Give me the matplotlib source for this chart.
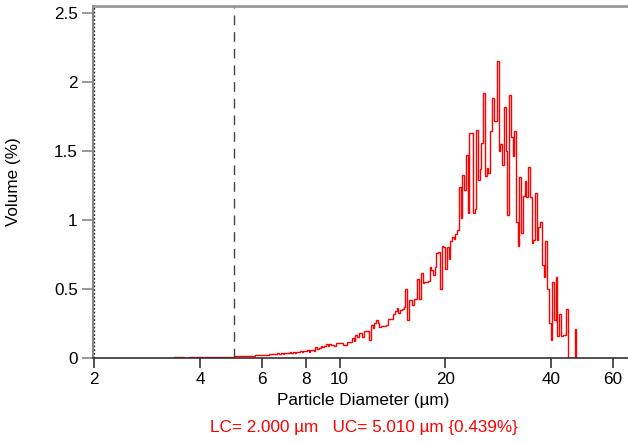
#!/usr/bin/env python3
"""Distribuicao de tamanho de particula (volume %) com janela LC/UC."""

import numpy as np
import matplotlib
matplotlib.use("Agg")
import matplotlib.pyplot as plt

plt.rcParams["font.family"] = ["Liberation Sans", "DejaVu Sans"]

# canais do contador: 300 canais log entre 2 e 60 um
d_min, d_max, n_canais = 2.0, 60.0, 300

# volume (%) por canal (canais 0..278)
volume_pct = (
    [0.0] * 46
    + [0.005, 0.004, 0.005, 0.005, 0.004, 0.005,
       0.003, 0.003, 0.002, 0.004]
    + [0.006, 0.007, 0.007, 0.006, 0.007, 0.008, 0.007, 0.007, 0.006, 0.007,
       0.008, 0.007, 0.007, 0.008, 0.007, 0.008, 0.008, 0.007, 0.008, 0.009,
       0.008, 0.009, 0.009, 0.010, 0.009]
    + [0.013, 0.015, 0.014, 0.012, 0.016, 0.015, 0.014, 0.017, 0.015, 0.016,
       0.018, 0.017, 0.019]
    + [0.021, 0.020, 0.023, 0.022, 0.025, 0.021, 0.024, 0.026,
       0.028, 0.031, 0.027, 0.030, 0.033, 0.029, 0.034, 0.032,
       0.037, 0.040, 0.035, 0.042, 0.039, 0.044, 0.038, 0.045,
       0.046, 0.050, 0.043, 0.052, 0.048, 0.055, 0.047, 0.056,
       0.060, 0.054, 0.080, 0.062, 0.075, 0.085, 0.078, 0.090,
       0.098, 0.085, 0.102, 0.092, 0.095, 0.090, 0.108, 0.112]
    + [0.106, 0.106, 0.094, 0.094, 0.114, 0.118, 0.118, 0.143, 0.126, 0.167,
       0.155, 0.184, 0.184, 0.155, 0.198, 0.196, 0.196, 0.130, 0.239, 0.215,
       0.256, 0.275, 0.251, 0.227, 0.232, 0.235, 0.232, 0.239, 0.280, 0.285,
       0.285, 0.319, 0.343, 0.365, 0.329, 0.348, 0.353, 0.367, 0.498, 0.275,
       0.420, 0.420, 0.384, 0.425, 0.425, 0.570, 0.425]
    + [0.614, 0.546, 0.550, 0.553, 0.560, 0.662, 0.640, 0.600, 0.656, 0.758,
       0.770, 0.497, 0.810, 0.805, 0.643, 0.807, 0.720, 0.850, 0.879, 0.865,
       0.899, 0.928, 1.237, 1.012, 1.324, 1.217, 1.469, 1.053]
    + [1.628, 1.628, 1.048, 1.077, 1.652, 1.290, 1.367, 1.556, 1.923, 1.320,
       1.374, 1.343, 1.647, 1.882, 1.720, 1.720, 2.155]
    + [1.500, 1.551, 1.399, 1.821, 1.500, 1.036, 1.903, 1.600, 1.464, 1.643,
       0.988, 0.812, 1.310, 0.908, 1.174, 1.285]
    + [1.169, 1.382, 1.170, 0.831, 0.855, 1.193, 0.855, 0.947, 0.988, 0.674,
       0.585, 0.850, 0.498, 0.256, 0.130, 0.553, 0.275, 0.585, 0.160, 0.319,
       0.160, 0.167, 0.167, 0.357]
    + [0.0, 0.0, 0.0, 0.0, 0.210]
)

lc, uc = 2.000, 5.010
pct_janela = 0.439

x_ticks = [2, 4, 6, 8, 10, 20, 40, 60]
y_ticks = [0, 0.5, 1, 1.5, 2, 2.5]
y_tick_labels = ["0", "0.5", "1", "1.5", "2", "2.5"]

bordas = np.geomspace(d_min, d_max, n_canais + 1)[: len(volume_pct) + 1]

fig = plt.figure(figsize=(6.28, 4.42), dpi=100)
ax = fig.add_axes([0.148, 0.19, 0.852, 0.7964])

ax.stairs(volume_pct, bordas, color="#ff0000", linewidth=1.0, zorder=4)

# janela LC-UC (topo coincide com a borda superior)
y_top = 2.551
ax.plot([lc, lc], [0, y_top], color="#222222", lw=0.9, ls=(0, (1.5, 1.5)), zorder=3)
ax.plot([uc, uc], [0, y_top], color="#444444", lw=1.0, ls=(0, (7, 5)), zorder=3)

ax.set_xscale("log")
ax.set_xlim(1.983, 66.3)
ax.set_ylim(0, y_top)
ax.set_xticks(x_ticks)
ax.set_xticklabels([str(t) for t in x_ticks])
ax.xaxis.set_minor_locator(matplotlib.ticker.NullLocator())
ax.set_yticks(y_ticks)
ax.set_yticklabels(y_tick_labels)

ax.tick_params(axis="x", direction="out", length=7, width=1.2, color="#333333",
               labelsize=12.3, pad=3)
ax.tick_params(axis="y", direction="out", length=8, width=1.2, color="#888888",
               labelsize=12.3, pad=3)

ax.spines["right"].set_visible(False)
ax.spines["top"].set_color("#999999")
ax.spines["top"].set_linewidth(2)
ax.spines["left"].set_color("#888888")
ax.spines["left"].set_linewidth(1.5)
ax.spines["bottom"].set_color("#333333")
ax.spines["bottom"].set_linewidth(1.2)
for s in ax.spines.values():
    s.set_zorder(5)

ax.set_xlabel("Particle Diameter (µm)", fontsize=12.3)
ax.xaxis.set_label_coords(0.505, -0.12)
ax.xaxis.label.set_va("center")
ax.set_ylabel("Volume (%)", fontsize=12.3)
ax.yaxis.set_label_coords(-0.148, 0.5)
ax.yaxis.label.set_va("center")

fig.text(0.58, 0.032,
         f"LC= {lc:.3f} µm   UC= {uc:.3f} µm {{{pct_janela:.3f}%}}",
         color="#ff0000", fontsize=12.3, ha="center", va="center")

fig.savefig("out.png", dpi=100)
plt.close(fig)
